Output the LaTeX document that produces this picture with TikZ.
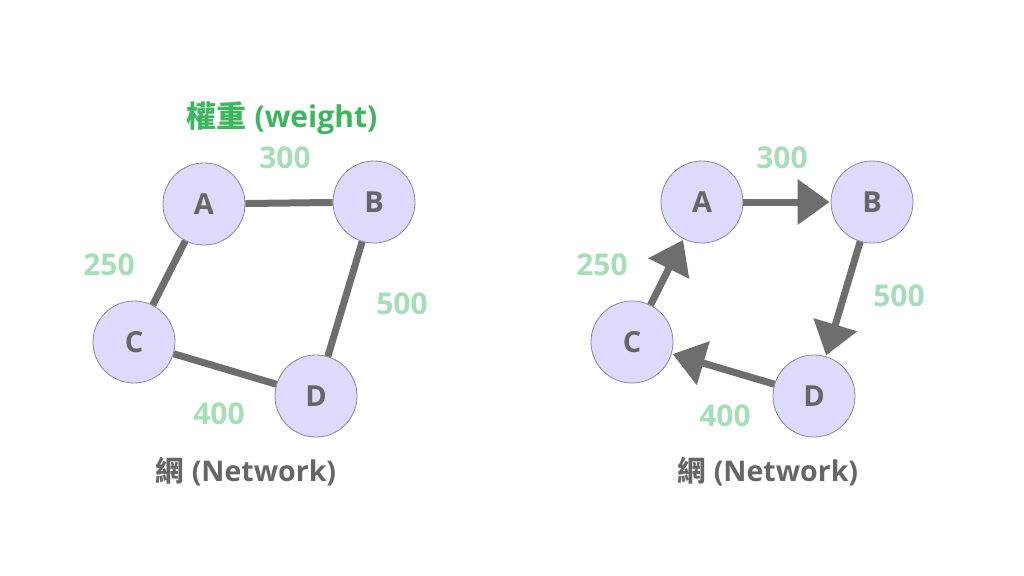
\documentclass[tikz,border=0pt]{standalone}
\usepackage{fontspec}
\setmainfont{Open Sans}
\newfontfamily\cjk{Noto Sans CJK TC}
\usetikzlibrary{arrows.meta}
\definecolor{nodefill}{HTML}{DDDAFC}
\definecolor{nodedraw}{HTML}{8A86A0}
\definecolor{edgegray}{HTML}{6E6E6E}
\definecolor{textgray}{HTML}{666666}
\definecolor{titlegreen}{HTML}{3DB75F}
\definecolor{numgreen}{HTML}{A5DEB8}
\tikzset{
  vtx/.style={circle, fill=nodefill, draw=nodedraw, line width=0.8pt, minimum size=82pt, inner sep=0pt,
    font=\fontsize{29}{29}\selectfont\bfseries, text=textgray},
  edge/.style={draw=edgegray, line width=7pt},
  arr/.style={edge, -{Triangle[length=32pt, width=44pt]}, shorten >=1pt},
  num/.style={font=\fontsize{30}{30}\selectfont\bfseries, text=numgreen},
  caption/.style={font=\fontsize{28.5}{28.5}\selectfont\bfseries, text=textgray},
  wtitle/.style={font=\fontsize{30}{30}\selectfont\bfseries, text=titlegreen}
}
\begin{document}
\begin{tikzpicture}[x=1pt, y=-1pt]
\useasboundingbox (0,0) rectangle (1024,575);
% left graph
\node[vtx] (A1) at (204,204) {A};
\node[vtx] (B1) at (374,202) {B};
\node[vtx] (C1) at (134,342) {C};
\node[vtx] (D1) at (316,396) {D};
\path[edge] (A1) -- (B1);
\path[edge] (A1) -- (C1);
\path[edge] (B1) -- (D1);
\path[edge] (C1) -- (D1);
\node[wtitle] (w) at (282,118) {{\cjk\bfseries 權重} (weight)};
\node[num] (n1a) at (285,158) {300};
\node[num] (n1b) at (109,265) {250};
\node[num] (n1c) at (402,304) {500};
\node[num] (n1d) at (219,414) {400};
\node[caption] (cap1) at (246,472) {{\cjk 網} (Network)};
% right graph
\node[vtx] (A2) at (702,202) {A};
\node[vtx] (B2) at (872,202) {B};
\node[vtx] (C2) at (632,342) {C};
\node[vtx] (D2) at (814,396) {D};
\path[arr] (A2) -- (B2);
\path[arr] (B2) -- (D2);
\path[arr] (D2) -- (C2);
\path[arr] (C2) -- (A2);
\node[num] (n2a) at (782,158) {300};
\node[num] (n2b) at (602,265) {250};
\node[num] (n2c) at (899,296) {500};
\node[num] (n2d) at (725,416) {400};
\node[caption] (cap2) at (768,472) {{\cjk 網} (Network)};
\end{tikzpicture}
\end{document}
